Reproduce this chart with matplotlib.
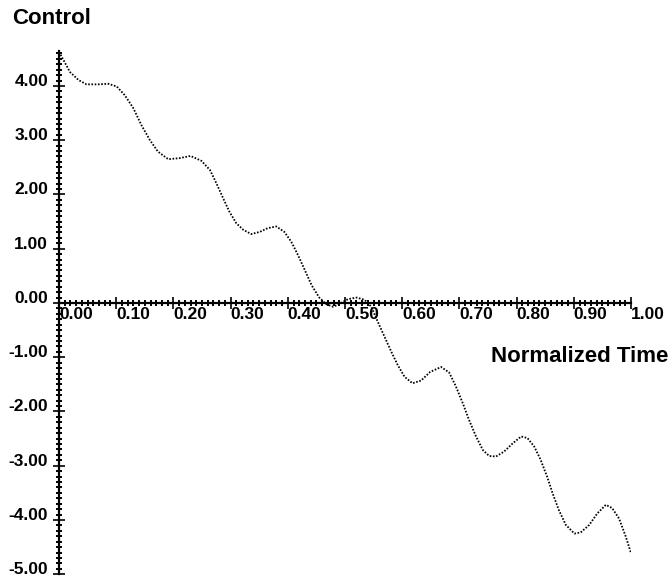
import matplotlib
matplotlib.use("Agg")
import matplotlib.pyplot as plt
from matplotlib.ticker import MultipleLocator, FormatStrFormatter

plt.rcParams['font.family'] = ['Liberation Sans', 'DejaVu Sans']
plt.rcParams['font.weight'] = 'bold'

# Control signal sampled over normalized time
time = [0.000, 0.019, 0.034, 0.048, 0.069, 0.086, 0.101, 0.115, 0.130, 0.144,
        0.159, 0.173, 0.191, 0.211, 0.230, 0.249, 0.264, 0.275, 0.287, 0.298,
        0.310, 0.322, 0.336, 0.351, 0.365, 0.380, 0.394, 0.406, 0.418, 0.430,
        0.442, 0.455, 0.467, 0.479, 0.490, 0.505, 0.520, 0.534, 0.546, 0.557,
        0.569, 0.581, 0.592, 0.604, 0.618, 0.633, 0.649, 0.668, 0.682, 0.694,
        0.706, 0.717, 0.729, 0.741, 0.752, 0.764, 0.778, 0.793, 0.808, 0.819,
        0.831, 0.842, 0.854, 0.863, 0.874, 0.886, 0.901, 0.912, 0.927, 0.941,
        0.956, 0.967, 0.979, 0.991, 1.000]
control = [4.63, 4.26, 4.11, 4.03, 4.03, 4.04, 3.99, 3.83, 3.59, 3.28,
           3.00, 2.79, 2.65, 2.67, 2.71, 2.62, 2.45, 2.21, 1.93, 1.68,
           1.47, 1.35, 1.27, 1.31, 1.38, 1.41, 1.31, 1.13, 0.88, 0.60,
           0.32, 0.10, -0.02, -0.07, -0.02, 0.07, 0.10, 0.06, -0.07, -0.34,
           -0.62, -0.90, -1.14, -1.36, -1.48, -1.43, -1.27, -1.18, -1.28, -1.54,
           -1.85, -2.16, -2.46, -2.71, -2.82, -2.83, -2.74, -2.59, -2.46, -2.49,
           -2.65, -2.89, -3.22, -3.51, -3.82, -4.09, -4.25, -4.23, -4.09, -3.88,
           -3.72, -3.78, -3.97, -4.31, -4.61]

W, H = 672, 580
fig = plt.figure(figsize=(W / 100, H / 100), dpi=100)
left, right = 59, 631
top, bottom = 50.7, 574.25
ax = fig.add_axes([left / W, (H - bottom) / H, (right - left) / W, (bottom - top) / H])

ax.plot(time, control, color='black', linewidth=1.3, linestyle=(0, (0.9, 0.9)))

ax.set_xlim(0, 1.0)
ax.set_ylim(-5.0, 4.65)

for side in ('top', 'right'):
    ax.spines[side].set_visible(False)
ax.spines['left'].set_position(('data', 0))
ax.spines['bottom'].set_position(('data', 0))
ax.spines['left'].set_linewidth(1.6)
ax.spines['bottom'].set_linewidth(1.6)

ax.xaxis.set_major_locator(MultipleLocator(0.1))
ax.xaxis.set_minor_locator(MultipleLocator(0.01))
ax.yaxis.set_major_locator(MultipleLocator(1.0))
ax.yaxis.set_minor_locator(MultipleLocator(0.1))
ax.xaxis.set_major_formatter(FormatStrFormatter('%.2f'))
ax.yaxis.set_major_formatter(FormatStrFormatter('%.2f'))

ax.tick_params(which='major', direction='inout', length=8.5, width=1.2,
               labelsize=12.5, color='black')
ax.tick_params(which='minor', direction='inout', length=4, width=1.4, color='black')
ax.tick_params(axis='x', which='major', pad=-1)
ax.tick_params(axis='y', which='major', pad=3.5)

for lbl in ax.get_xticklabels():
    lbl.set_horizontalalignment('left')
    lbl.set_fontweight('bold')
for lbl in ax.get_yticklabels():
    lbl.set_verticalalignment('baseline')
    lbl.set_fontweight('bold')

ax.set_xlabel('Normalized Time', fontsize=16, fontweight='bold')
ax.xaxis.label.set_horizontalalignment('right')
ax.xaxis.label.set_verticalalignment('center')
ax.xaxis.set_label_coords((668 - left) / (right - left), (bottom - 356) / (bottom - top))

ax.set_ylabel('Control', fontsize=16, fontweight='bold', rotation=0)
ax.yaxis.label.set_horizontalalignment('left')
ax.yaxis.label.set_verticalalignment('center')
ax.yaxis.set_label_coords((12 - left) / (right - left), (bottom - 18) / (bottom - top))

fig.savefig('out.png', dpi=100)
